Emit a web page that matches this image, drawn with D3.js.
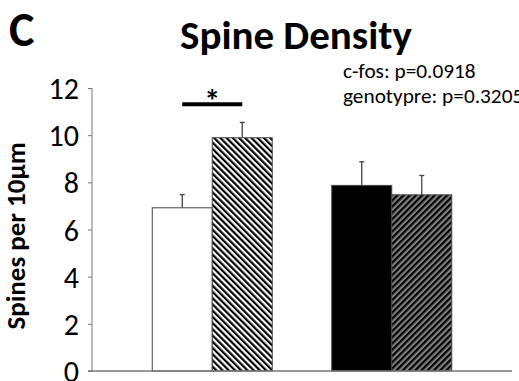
<!DOCTYPE html>
<html><head><meta charset="utf-8">
<script src="https://cdn.jsdelivr.net/npm/d3@7"></script>
<style>body{margin:0;background:#fff}svg{display:block}</style>
</head><body>
<svg id="c" width="519" height="381"></svg>
<script>
const groups = ["A", "B"];
const conditions = ["control", "cfos"];
const means = [[6.92, 9.89], [7.87, 7.47]];
const errs = [[0.56, 0.65], [1.0, 0.82]];
const yTicks = [0, 2, 4, 6, 8, 10, 12];
const pTexts = ["c-fos: p=0.0918", "genotypre: p=0.3205"];

const svg = d3.select("#c");
const font = "Carlito, 'Open Sans', 'Liberation Sans', sans-serif";
const defs = svg.append("defs");
function hatch(id, bg, angle) {
  const s = 4.4;
  const p = defs.append("pattern").attr("id", id).attr("patternUnits", "userSpaceOnUse")
    .attr("width", s).attr("height", s).attr("patternTransform", `rotate(${angle})`);
  p.append("rect").attr("width", s).attr("height", s).attr("fill", bg);
  p.append("rect").attr("width", s / 2).attr("height", s).attr("fill", "#000");
}
hatch("h1", "#fff", -45);
hatch("h2", "#808080", 45);
const fills = [["#fff", "url(#h1)"], ["#000", "url(#h2)"]];

const x0 = 92, x1 = 512;
const y = d3.scaleLinear().domain([0, 12]).range([371, 88]);
const xg = d3.scaleBand().domain(groups).range([x0, x1]).paddingInner(0.3315).paddingOuter(0.3357);
const xs = d3.scaleBand().domain(conditions).range([0, xg.bandwidth()]);

// y axis
const ax = svg.append("g").attr("transform", `translate(${x0},0)`)
  .call(d3.axisLeft(y).tickValues(yTicks).tickSize(4).tickSizeOuter(0).tickPadding(9));
ax.select(".domain").attr("stroke", "#777").attr("d", `M0,${y(12)}V${y(0)}`);
ax.selectAll(".tick line").attr("stroke", "#777");
ax.selectAll(".tick text").attr("font-family", font).attr("font-size", 30).attr("fill", "#000")
  .attr("dy", "0.35em");

// bars
groups.forEach((g, gi) => {
  conditions.forEach((c, ci) => {
    const bx = xg(g) + xs(c), w = xs.bandwidth();
    const cx = bx + w / 2;
    const top = y(means[gi][ci]), etop = y(means[gi][ci] + errs[gi][ci]);
    svg.append("line").attr("x1", cx).attr("x2", cx).attr("y1", top).attr("y2", etop)
      .attr("stroke", "#444").attr("stroke-width", 1.3);
    svg.append("line").attr("x1", cx - 2.5).attr("x2", cx + 2.5).attr("y1", etop).attr("y2", etop)
      .attr("stroke", "#444").attr("stroke-width", 1.3);
    svg.append("rect").attr("x", bx).attr("y", top).attr("width", w).attr("height", y(0) - top)
      .attr("fill", fills[gi][ci]).attr("stroke", "#444").attr("stroke-width", 1);
  });
});
// baseline
svg.append("line").attr("x1", x0 - 4).attr("x2", x1).attr("y1", y(0)).attr("y2", y(0))
  .attr("stroke", "#777").attr("stroke-width", 1.3);

// significance
const sx = xg("A") + xs.bandwidth();
svg.append("line").attr("x1", sx - 30).attr("x2", sx + 30).attr("y1", 104.3).attr("y2", 104.3)
  .attr("stroke", "#000").attr("stroke-width", 4);
svg.append("text").attr("x", sx).attr("y", 112).attr("text-anchor", "middle")
  .attr("font-family", font).attr("font-weight", "bold").attr("font-size", 32).text("*");

// titles
svg.append("text").attr("x", 9).attr("y", 46).attr("font-family", font).attr("font-weight", "bold")
  .attr("font-size", 48).text("C");
svg.append("text").attr("x", 180).attr("y", 49).attr("font-family", font)
  .attr("font-weight", "bold").attr("font-size", 41).text("Spine Density");
svg.append("text").attr("transform", "translate(25,236) rotate(-90)").attr("text-anchor", "middle")
  .attr("font-family", font).attr("font-weight", "bold").attr("font-size", 27).text("Spines per 10µm");
pTexts.forEach((t, i) => {
  svg.append("text").attr("x", 343).attr("y", 78 + i * 25).attr("font-family", font)
    .attr("font-size", 21.3).text(t);
});
</script>
</body></html>
